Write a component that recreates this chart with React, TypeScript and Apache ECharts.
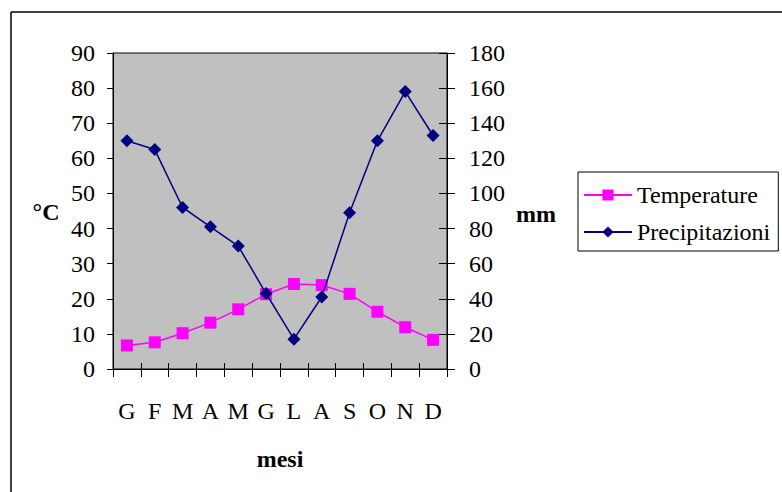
import React, { useEffect, useRef } from "react";
import * as echarts from "echarts";

const months = ["G", "F", "M", "A", "M", "G", "L", "A", "S", "O", "N", "D"];
const temperature = [6.7, 7.6, 10.2, 13.2, 17.0, 21.3, 24.2, 23.9, 21.4, 16.3, 11.9, 8.3];
const precipitation = [130, 125, 92, 81, 70, 43, 17, 41, 89, 130, 158, 133];
const leftAxis = { min: 0, max: 90, interval: 10 };
const rightAxis = { min: 0, max: 180, interval: 20 };

const FONT = "Liberation Serif";

export default function App() {
  const ref = useRef<HTMLDivElement>(null);
  useEffect(() => {
    if (!ref.current) return;
    const chart = echarts.init(ref.current, null, { renderer: "svg" });
    const labelStyle = { color: "#000", fontFamily: FONT, fontSize: 24 };
    chart.setOption({
      animation: false,
      backgroundColor: "#fff",
      textStyle: { fontFamily: FONT },
      grid: {
        left: 113,
        top: 53,
        width: 334,
        height: 316,
        show: true,
        backgroundColor: "#c0c0c0",
        borderColor: "#000",
        borderWidth: 1,
        outerBoundsMode: "none",
      },
      xAxis: [
        {
          type: "category",
          data: months,
          boundaryGap: true,
          axisLine: { show: true, lineStyle: { color: "#000", width: 1 } },
          axisTick: { show: true, inside: false, length: 8, lineStyle: { color: "#000" } },
          axisLabel: { ...labelStyle, margin: 30, interval: 0 },
          splitLine: { show: false },
        },
        {
          type: "category",
          data: months,
          position: "bottom",
          boundaryGap: true,
          axisLine: { show: false },
          axisTick: { show: true, inside: true, length: 6, lineStyle: { color: "#000" } },
          axisLabel: { show: false },
          splitLine: { show: false },
        },
      ],
      yAxis: [
        {
          type: "value",
          position: "left",
          ...leftAxis,
          axisLine: { show: true, lineStyle: { color: "#000" } },
          axisTick: { show: true, inside: false, length: 6, lineStyle: { color: "#000" } },
          axisLabel: { ...labelStyle, margin: 18 },
          splitLine: { show: false },
        },
        {
          type: "value",
          position: "right",
          ...rightAxis,
          axisLine: { show: true, lineStyle: { color: "#000" } },
          axisTick: { show: true, inside: false, length: 8, lineStyle: { color: "#000" } },
          axisLabel: { ...labelStyle, margin: 22 },
          splitLine: { show: false },
        },
        {
          type: "value",
          position: "right",
          ...rightAxis,
          axisLine: { show: false },
          axisTick: { show: true, inside: true, length: 8, lineStyle: { color: "#000" } },
          axisLabel: { show: false },
          splitLine: { show: false },
        },
      ],
      legend: {
        orient: "vertical",
        left: 578,
        top: 172,
        padding: [11, 8, 7, 5],
        itemGap: 13,
        itemWidth: 48,
        itemHeight: 14,
        borderColor: "#000",
        borderWidth: 1,
        backgroundColor: "#fff",
        textStyle: { color: "#000", fontFamily: FONT, fontSize: 24 },
        data: ["Temperature", "Precipitazioni"],
      },
      graphic: [
        { type: "line", shape: { x1: 11, y1: 12, x2: 782, y2: 12 }, style: { stroke: "#000", lineWidth: 1.5 } },
        { type: "line", shape: { x1: 11, y1: 12, x2: 11, y2: 492 }, style: { stroke: "#000", lineWidth: 1.5 } },
        {
          type: "text",
          x: 46,
          y: 212,
          style: { text: "°C", fontFamily: FONT, fontSize: 24, fontWeight: "bold", fill: "#000", align: "center", verticalAlign: "middle" },
        },
        {
          type: "text",
          x: 536,
          y: 214,
          style: { text: "mm", fontFamily: FONT, fontSize: 24, fontWeight: "bold", fill: "#000", align: "center", verticalAlign: "middle" },
        },
        {
          type: "text",
          x: 280,
          y: 459,
          style: { text: "mesi", fontFamily: FONT, fontSize: 24, fontWeight: "bold", fill: "#000", align: "center", verticalAlign: "middle" },
        },
      ],
      series: [
        {
          name: "Temperature",
          type: "line",
          xAxisIndex: 0,
          yAxisIndex: 0,
          data: temperature,
          symbol: "rect",
          symbolSize: 12,
          itemStyle: { color: "#ff00ff" },
          lineStyle: { color: "#ff00ff", width: 1.5 },
          z: 3,
        },
        {
          name: "Precipitazioni",
          type: "line",
          xAxisIndex: 0,
          yAxisIndex: 1,
          data: precipitation,
          symbol: "diamond",
          symbolSize: 13,
          itemStyle: { color: "#000080" },
          lineStyle: { color: "#000080", width: 1.5 },
          z: 4,
        },
      ],
    });
    return () => chart.dispose();
  }, []);
  return (
    <div
      ref={ref}
      style={{ position: "absolute", left: 0, top: 0, width: 782, height: 492 }}
    />
  );
}
